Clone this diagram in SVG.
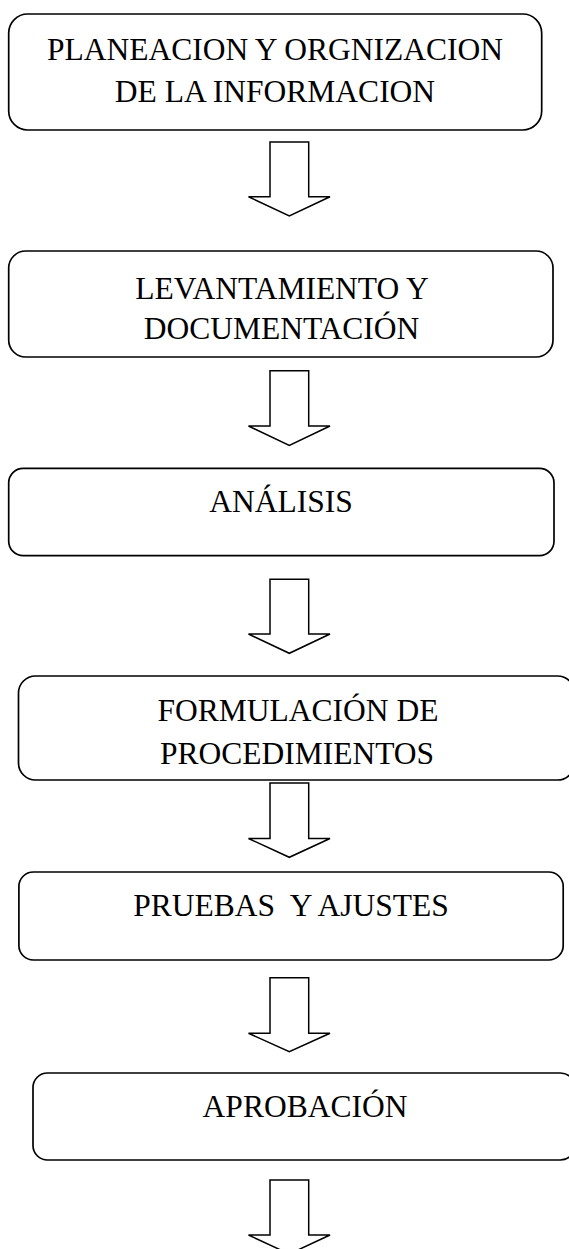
<svg xmlns="http://www.w3.org/2000/svg" width="569" height="1249" viewBox="0 0 569 1249">
<style>
.box{fill:#fff;stroke:#000;stroke-width:1.7}
.arr{fill:#fff;stroke:#000;stroke-width:1.5;stroke-linejoin:miter}
.t{font-family:"Liberation Serif","Times New Roman",serif;font-size:31.5px;fill:#000;text-anchor:middle;white-space:pre}
</style>
<rect width="569" height="1249" fill="#fff"/>
<g id="connectors">
<path class="arr" d="M270,142 H308.7 V196.7 H330 L289.3,216 L248.5,196.7 H270 Z"/>
<path class="arr" d="M270,370.7 H308.7 V426 H330 L289.3,445.5 L248.5,426 H270 Z"/>
<path class="arr" d="M270,579.3 H308.7 V634 H330 L289.3,653.3 L248.5,634 H270 Z"/>
<path class="arr" d="M270,783 H308.7 V838.5 H330 L289.3,857.3 L248.5,838.5 H270 Z"/>
<path class="arr" d="M270,977.7 H308.7 V1033.3 H330 L289.3,1051.7 L248.5,1033.3 H270 Z"/>
<path class="arr" d="M270,1180 H308.7 V1235 H330 L289.3,1254 L248.5,1235 H270 Z"/>
</g>
<g id="n1">
<rect class="box" x="8.7" y="14" width="533" height="116" rx="19" ry="19"/>
<text class="t" x="275" y="60">PLANEACION Y ORGNIZACION</text>
<text class="t" x="275" y="102">DE LA INFORMACION</text>
</g>
<g id="n2">
<rect class="box" x="8.7" y="251" width="544.3" height="106" rx="17" ry="17"/>
<text class="t" x="282" y="299">LEVANTAMIENTO Y</text>
<text class="t" x="281.5" y="339">DOCUMENTACIÓN</text>
</g>
<g id="n3">
<rect class="box" x="8.7" y="468.3" width="545.3" height="87.4" rx="14.5" ry="14.5"/>
<text class="t" x="281" y="512.3">ANÁLISIS</text>
</g>
<g id="n4">
<rect class="box" x="18.5" y="676" width="556" height="104" rx="17" ry="17"/>
<text class="t" x="298" y="721">FORMULACIÓN DE</text>
<text class="t" x="297" y="764">PROCEDIMIENTOS</text>
</g>
<g id="n5">
<rect class="box" x="18.9" y="872" width="544.3" height="88" rx="14.5" ry="14.5"/>
<text class="t" x="291" y="916" xml:space="preserve">PRUEBAS  Y AJUSTES</text>
</g>
<g id="n6">
<rect class="box" x="33" y="1073" width="542" height="87" rx="14.5" ry="14.5"/>
<text class="t" x="305" y="1116.7">APROBACIÓN</text>
</g>
</svg>
